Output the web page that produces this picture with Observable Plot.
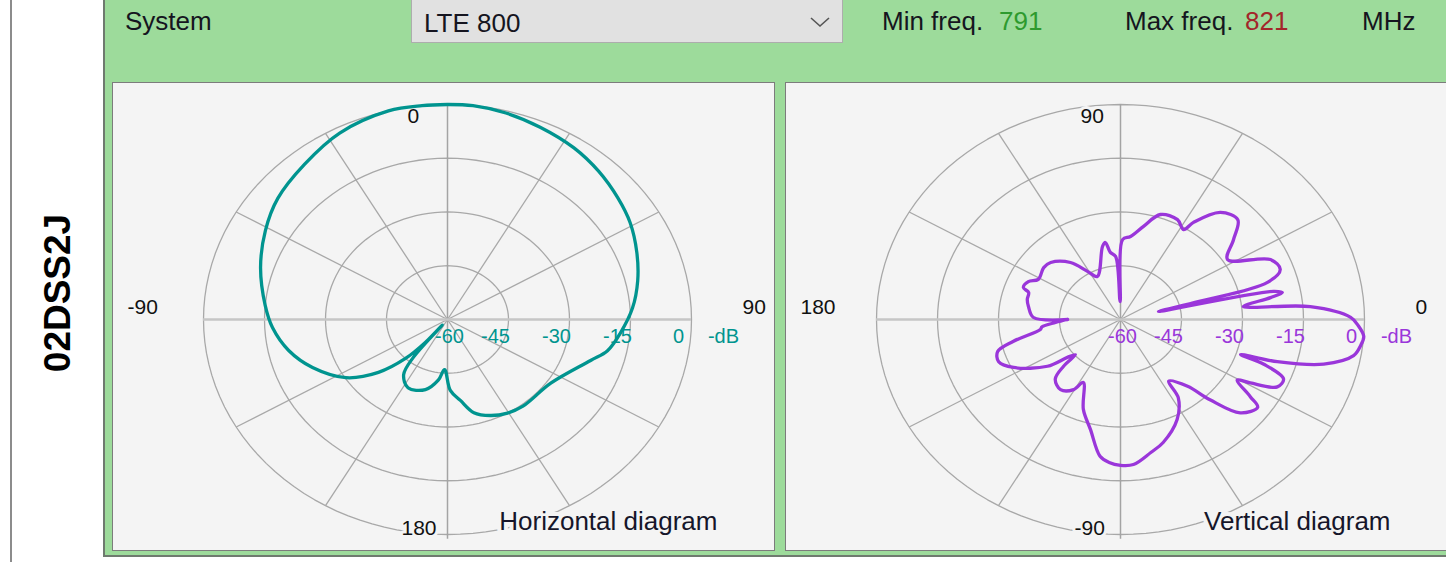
<!DOCTYPE html>
<html><head><meta charset="utf-8">
<script src="https://cdn.jsdelivr.net/npm/d3@7"></script>
<script src="https://cdn.jsdelivr.net/npm/@observablehq/plot@0.6"></script>
<style>
html,body{margin:0;padding:0;background:#fff;}
body{width:1446px;height:562px;overflow:hidden;position:relative;font-family:"Liberation Sans",Arial,sans-serif;color:#151520;}
.abs{position:absolute;white-space:nowrap;line-height:1;}
#strip-line{left:10px;top:0;width:2px;height:562px;background:#8c8c8c;}
#side{left:57px;top:293px;transform:translate(-50%,-50%) rotate(-90deg);font-weight:bold;font-size:37px;color:#000;}
#green{left:103px;top:0;width:1343px;height:557px;background:#9ddb9b;border-left:2px solid #6f7a6f;border-bottom:2px solid #6f7a6f;box-sizing:border-box;}
.hdr{font-size:26px;top:8px;}
#combo{left:411px;top:-2px;width:432px;height:45px;background:#e1e1e1;border:1px solid #adadad;box-sizing:border-box;}
.panel{top:82px;width:663px;height:469px;border:1px solid #7c7c7c;box-sizing:border-box;background:#f4f4f4;overflow:hidden;}
.panel svg{display:block;}
</style>
</head><body>
<div class="abs" id="strip-line"></div>
<div class="abs" id="side">02DSS2J</div>
<div class="abs" id="green"></div>
<div class="abs hdr" style="left:125px;">System</div>
<div class="abs" id="combo"></div>
<div class="abs hdr" style="left:424px;top:10px;">LTE 800</div>
<svg class="abs" style="left:809px;top:15px;" width="22" height="14"><polyline points="2,3 11,11 20,3" fill="none" stroke="#555" stroke-width="1.6"/></svg>
<div class="abs hdr" style="left:882px;">Min freq.</div>
<div class="abs hdr" style="left:999px;color:#2e9a2e;">791</div>
<div class="abs hdr" style="left:1125px;">Max freq.</div>
<div class="abs hdr" style="left:1245px;color:#a3262a;">821</div>
<div class="abs hdr" style="left:1362px;">MHz</div>
<div class="abs panel" id="pH" style="left:112px;"></div>
<div class="abs panel" id="pV" style="left:785px;"></div>
<script>
// ---- data ----
// Horizontal diagram: azimuth (deg, clockwise from top) and level (dB)
const horizAngles = [0, 6, 14, 23, 33, 42, 51, 59, 68, 77, 86, 95, 102.5, 108, 125, 142.5, 150.5, 158.5, 166, 172, 178, 183, 187.5, 195.5, 207, 215, 218.5, 219.5, 220.5, 223.5, 229, 237, 248, 257.5, 267, 275, 287.5, 299, 309, 321, 333, 346, 354, 360];
const horizDb     = [0, 0, -0.6, -1.7, -2.9, -4.4, -6.1, -7.6, -9.8, -12, -14.4, -17.3, -19.7, -23, -29, -29.5, -30, -31.2, -33.2, -37.2, -40.2, -46, -43, -39.7, -38.6, -41.2, -46.5, -58, -51.6, -45, -37.5, -30.2, -24.2, -20, -16.9, -15, -11.8, -8.8, -6.3, -4.2, -1.6, 0, 0, 0];
// Vertical diagram: elevation (deg, counter-clockwise from right) and level (dB)
const vertAngles = [-180, -177, -174, -172, -167, -163.5, -158.5, -153, -144, -141, -138.5, -137, -134, -127, -120.5, -117.5, -110, -103.5, -97.5, -94, -90, -85.5, -78.5, -73, -63.5, -57, -55.5, -48.5, -45.5, -41.5, -36, -34, -30.5, -29, -26, -22.5, -19.5, -18.3, -17, -14, -10, -7, -4.5, -1.7, 0.6, 4.4, 6.8, 9.4, 10.7, 11.8, 13.5, 14.6, 16, 19.6, 24.4, 32.5, 38.7, 44, 50.6, 56.5, 58.3, 63.3, 71.5, 77.7, 83.9, 88.7, 91, 93.9, 97.6, 99.8, 102.2, 115.4, 121.2, 127.7, 137.2, 142.5, 151, 155, 159.5, 161.6, 166.3, 171, 178.5, 180];
const vertDb     = [-47, -44, -40.6, -40.1, -33, -28.5, -27.8, -30.5, -37.8, -43.2, -45.2, -40.8, -36.9, -35.5, -37.3, -40.2, -33.3, -28.4, -21.5, -20, -19.3, -19.4, -22.2, -24.1, -28.8, -33.9, -39.1, -35.1, -28.6, -20.7, -18.3, -21.5, -26.7, -23.5, -17.1, -16.6, -22.6, -28.9, -19.7, -8.5, -1.8, -0.5, 0, -1.5, -3.4, -13.2, -29.6, -22.6, -19.5, -21.6, -50.4, -40, -22.4, -18.3, -19.5, -28.8, -24.4, -19.9, -21.3, -27.5, -30.5, -28.8, -29.1, -33.4, -36.7, -37.7, -55, -42.4, -41.1, -38.2, -39.1, -46.7, -44.3, -39.9, -36.6, -36.2, -36.9, -35, -34.5, -36.2, -36.4, -37.1, -38.6, -47];
// grid
const ringDb = [-45, -30, -15, 0];
const spokeAngles = [30, 60, 120, 150, 210, 240, 300, 330];
const dbTickValues = [-45, -30, -15, 0];
const dbTickLabels = ["-45", "-30", "-15", "0"];
const dbFloorLabel = "-60";
const dbUnitLabel = "-dB";
// cardinal labels: [top, right, bottom, left]
const horizCardinal = ["0", "90", "180", "-90"];
const vertCardinal = ["90", "0", "-90", "180"];

const rad = a => a * Math.PI / 180;
const R = db => db + 60;           // radius above the -60 dB floor
const horizPolar = (a, r) => [r * Math.sin(rad(a)), r * Math.cos(rad(a))];
const vertPolar  = (a, r) => [r * Math.cos(rad(a)), r * Math.sin(rad(a))];
const FONT = "Liberation Sans, Arial, sans-serif";
const BG = "#f4f4f4";

function panel({angles, dbs, polar, color, cardinal, title}) {
  const curve = angles.map((a, i) => ({a, r: R(dbs[i])}));
  const ringPts = ringDb.flatMap(db => d3.range(0, 361, 3).map(a => ({db, a})));
  const tx = (a, r) => polar(a, r)[0], ty = (a, r) => polar(a, r)[1];
  const txt = {fontFamily: FONT, fill: "#111", fontSize: 21};
  const halo = {fontFamily: FONT, fill: BG, stroke: BG, strokeWidth: 6, fontSize: 21};
  const card = [
    {v: cardinal[0], x: () => 0,   y: () => 60,  dx: -40, dy: 12},
    {v: cardinal[1], x: () => 60,  y: () => 0,   dx: 51,  dy: -12},
    {v: cardinal[2], x: () => 0,   y: () => -60, dx: -46, dy: -6},
    {v: cardinal[3], x: () => -60, y: () => 0,   dx: -76, dy: -12}
  ];
  const cardMarks = card.flatMap(c => [
    Plot.text([c.v], {x: c.x, y: c.y, text: d => d, dx: c.dx, dy: c.dy, textAnchor: "start", ...halo}),
    Plot.text([c.v], {x: c.x, y: c.y, text: d => d, dx: c.dx, dy: c.dy, textAnchor: "start", ...txt})
  ]);
  return Plot.plot({
    width: 661, height: 467, margin: 0,
    x: {domain: [-60, 60], range: [90, 578], axis: null},
    y: {domain: [-60, 60], range: [451, 21], axis: null},
    style: {background: BG},
    marks: [
      Plot.line(ringPts, {x: d => tx(d.a, R(d.db)), y: d => ty(d.a, R(d.db)), z: "db", stroke: "#a8a8a8", strokeWidth: 1.3}),
      Plot.link(spokeAngles, {x1: () => 0, y1: () => 0, x2: a => tx(a, 60), y2: a => ty(a, 60), stroke: "#a8a8a8", strokeWidth: 1.3}),
      Plot.ruleX([0], {y1: () => -61.3, y2: () => 60, stroke: "#a4a4a4", strokeWidth: 1.5}),
      Plot.ruleY([0], {x1: () => -60, x2: () => 60, stroke: "#c6c6c6", strokeWidth: 2.6}),
      ...cardMarks,
      Plot.text(dbTickValues, {x: d => R(d), y: () => 0, text: (d, i) => dbTickLabels[i], dx: -13, dy: 17, fill: color, fontSize: 20, fontFamily: FONT}),
      Plot.text([dbFloorLabel], {x: () => 0, y: () => 0, text: d => d, dx: 2, dy: 17, fill: color, fontSize: 20, fontFamily: FONT}),
      Plot.text([dbUnitLabel], {x: () => 60, y: () => 0, text: d => d, dx: 32, dy: 17, fill: color, fontSize: 20, fontFamily: FONT}),
      Plot.text([title], {frameAnchor: "bottom-right", text: d => d, textAnchor: "end", dx: -57, dy: -21, fontSize: 26, fontFamily: FONT, fill: BG, stroke: BG, strokeWidth: 8}),
      Plot.text([title], {frameAnchor: "bottom-right", text: d => d, textAnchor: "end", dx: -57, dy: -21, fontSize: 26, fontFamily: FONT, fill: "#16162a"}),
      Plot.line(curve, {x: d => tx(d.a, d.r), y: d => ty(d.a, d.r), stroke: color, strokeWidth: 3.3, curve: "catmull-rom", strokeLinejoin: "round"})
    ]
  });
}

document.getElementById("pH").append(panel({
  angles: horizAngles, dbs: horizDb, polar: horizPolar, color: "#00948f",
  cardinal: horizCardinal, title: "Horizontal diagram"
}));
document.getElementById("pV").append(panel({
  angles: vertAngles, dbs: vertDb, polar: vertPolar, color: "#9a36da",
  cardinal: vertCardinal, title: "Vertical diagram"
}));
</script>
</body></html>
